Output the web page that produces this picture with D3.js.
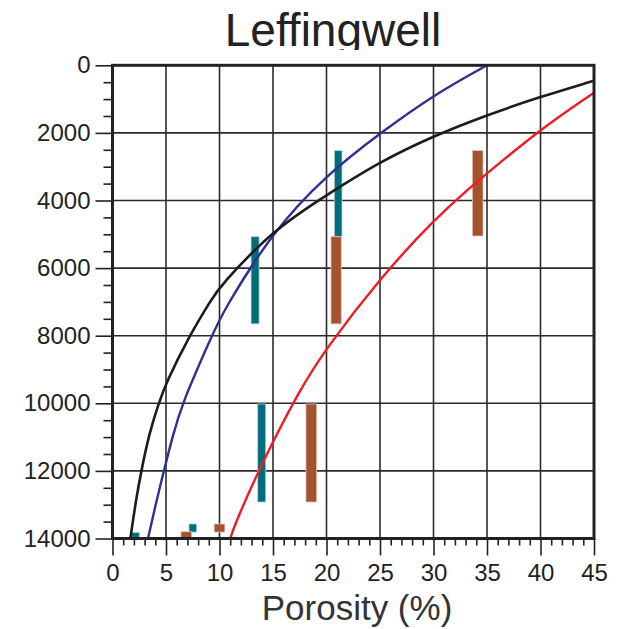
<!DOCTYPE html>
<html>
<head>
<meta charset="utf-8">
<script src="https://cdn.jsdelivr.net/npm/d3@7"></script>
<style>
  html, body { margin: 0; padding: 0; background: #fff; }
  svg { display: block; font-family: "Liberation Sans", Arial, sans-serif; }
</style>
</head>
<body>
<svg id="chart" width="620" height="629"></svg>
<script>
// Porosity (%) versus depth for the Leffingwell trends
const xTicks = [0, 5, 10, 15, 20, 25, 30, 35, 40, 45];
const yTicks = [0, 2000, 4000, 6000, 8000, 10000, 12000, 14000];

// trend curves: [porosity, depth]
const blackCurve = [
  [1.67, 14000], [2.2, 12850], [2.69, 12000], [3.44, 10880], [4.32, 10000],
  [5.0, 9400], [7.18, 8000], [9.23, 6940], [10.0, 6550], [15, 4870],
  [20, 3840], [25, 2850], [30, 2090], [35, 1470], [40, 930], [45, 455]
];
const blueCurve = [
  [3.32, 14000], [4.1, 12900], [4.8, 12000], [5.6, 11000], [6.5, 10000],
  [9.3, 8000], [10.23, 7335], [15, 4900], [20, 3245], [25, 2010], [30, 880], [35, 0]
];
const redCurve = [
  [11.0, 14000], [11.6, 13450], [14.1, 11680], [17.5, 9600], [19.86, 8420],
  [25.0, 6300], [30, 4580], [33.7, 3540], [35, 3200], [40, 1890], [45, 810]
];

// porosity ranges over depth intervals: [porosity min, porosity max, top, base]
const tealBars = [
  [1.8, 2.5, 13820, 14000],
  [7.15, 7.87, 13570, 13810],
  [12.95, 13.7, 5070, 7650],
  [20.73, 21.45, 2525, 5070],
  [13.57, 14.32, 10020, 12920]
];
const brownBars = [
  [6.4, 7.4, 13800, 14000],
  [9.5, 10.5, 13570, 13810],
  [20.42, 21.38, 5070, 7650],
  [18.08, 19.08, 10020, 12920],
  [33.63, 34.63, 2525, 5050]
];

const svg = d3.select("#chart");
const plotLeft = 112.5, plotRight = 594, plotTop = 65.3, plotBottom = 538.5;

const x = d3.scaleLinear().domain([0, 45]).range([plotLeft, plotRight]);
const y = d3.scaleLinear().domain([0, 14000]).range([plotTop, plotBottom]);

// grid
const grid = svg.append("g").attr("stroke", "#2b2b2b").attr("stroke-width", 1.6);
grid.selectAll("line.v").data(xTicks.slice(1, -1)).join("line")
  .attr("x1", d => x(d)).attr("x2", d => x(d)).attr("y1", plotTop).attr("y2", plotBottom);
grid.selectAll("line.h").data(yTicks.slice(1, -1)).join("line")
  .attr("x1", plotLeft).attr("x2", plotRight).attr("y1", d => y(d)).attr("y2", d => y(d));

// bars
function drawBars(data, fill, edge) {
  svg.append("g").selectAll("rect").data(data).join("rect")
    .attr("x", d => x(d[0]))
    .attr("width", d => x(d[1]) - x(d[0]))
    .attr("y", d => y(d[2]))
    .attr("height", d => y(d[3]) - y(d[2]))
    .attr("fill", fill)
    .attr("stroke", edge)
    .attr("stroke-width", 0.8);
}
drawBars(tealBars, "#006d78", "#b7d3d6");
drawBars(brownBars, "#a4532f", "#e2c3b4");

// curves (B-spline through the end points keeps the trends smooth)
const line = d3.line().x(d => x(d[0])).y(d => y(d[1])).curve(d3.curveBasis);
const defs = svg.append("defs");
defs.append("clipPath").attr("id", "plotClip")
  .append("rect").attr("x", plotLeft).attr("y", plotTop)
  .attr("width", plotRight - plotLeft).attr("height", plotBottom - plotTop);
const curves = svg.append("g").attr("clip-path", "url(#plotClip)").attr("fill", "none");
curves.append("path").datum(redCurve).attr("d", line).attr("stroke", "#ee1c25").attr("stroke-width", 2.4);
curves.append("path").datum(blueCurve).attr("d", line).attr("stroke", "#2e3192").attr("stroke-width", 2.4);
curves.append("path").datum(blackCurve).attr("d", line).attr("stroke", "#1c1c1c").attr("stroke-width", 2.6);

// axes
const yMinor = d3.range(0, 14001, 500).filter(d => d % 2000 !== 0);
const xMinor = d3.range(0, 46, 1).filter(d => d % 5 !== 0);

svg.append("g").attr("transform", `translate(${plotLeft},0)`)
  .call(d3.axisLeft(y).tickValues(yTicks).tickSize(17).tickPadding(5).tickFormat(d3.format("d")));
svg.append("g").attr("transform", `translate(${plotLeft},0)`)
  .call(d3.axisLeft(y).tickValues(yMinor).tickSize(9).tickFormat(""));
svg.append("g").attr("transform", `translate(0,${plotBottom})`)
  .call(d3.axisBottom(x).tickValues(xTicks).tickSize(17).tickPadding(8));
svg.append("g").attr("transform", `translate(0,${plotBottom})`)
  .call(d3.axisBottom(x).tickValues(xMinor).tickSize(7).tickFormat(""));

svg.selectAll(".domain").remove();
svg.selectAll(".tick line").attr("stroke", "#222").attr("stroke-width", 1.6);
svg.selectAll(".tick text").attr("font-size", 24).attr("fill", "#222")
  .attr("font-family", "Liberation Sans, Arial, sans-serif");

// frame
svg.append("rect").attr("x", plotLeft).attr("y", plotTop)
  .attr("width", plotRight - plotLeft).attr("height", plotBottom - plotTop)
  .attr("fill", "none").attr("stroke", "#222").attr("stroke-width", 3);

// title, clipped just above the frame
defs.append("clipPath").attr("id", "titleClip")
  .append("rect").attr("x", 0).attr("y", 0).attr("width", 620).attr("height", 50);
svg.append("text").attr("x", 333).attr("y", 46).attr("text-anchor", "middle")
  .attr("clip-path", "url(#titleClip)")
  .attr("font-size", 46).attr("fill", "#222").text("Leffingwell");

// x label
svg.append("text").attr("x", 357).attr("y", 620).attr("text-anchor", "middle")
  .attr("font-size", 35).attr("fill", "#333").text("Porosity (%)");
</script>
</body>
</html>
